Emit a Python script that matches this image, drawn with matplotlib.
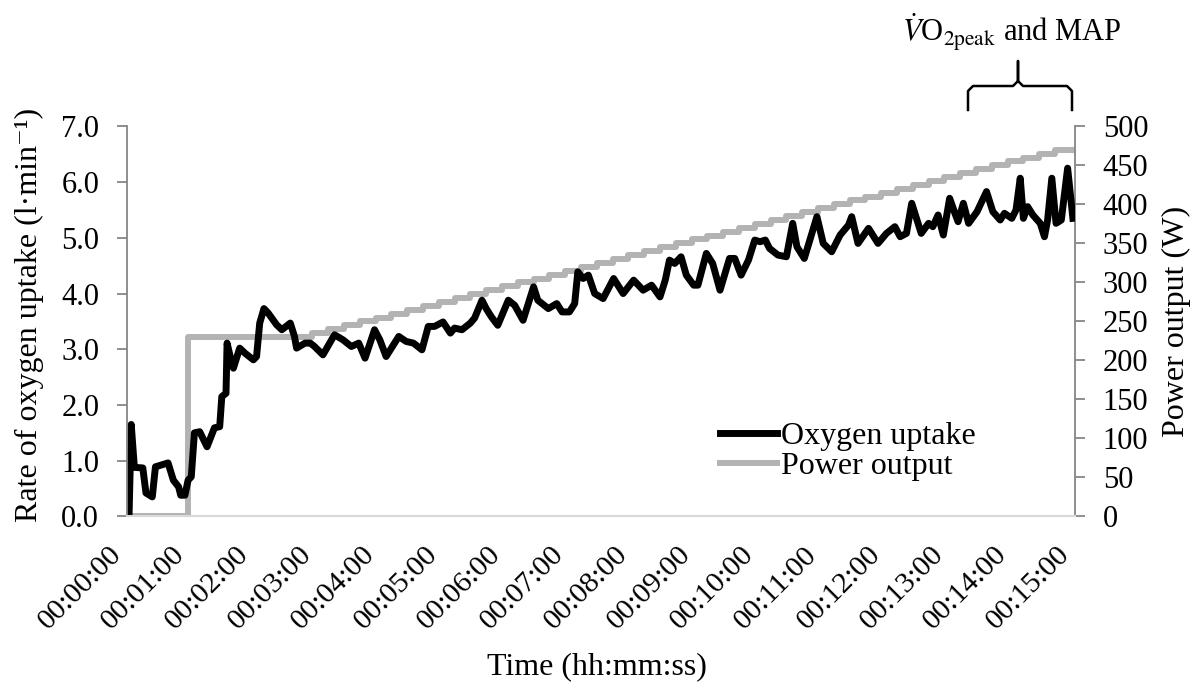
import matplotlib
matplotlib.use('Agg')
import matplotlib.pyplot as plt
import matplotlib.transforms as mtransforms
from matplotlib.lines import Line2D
from matplotlib.ticker import FormatStrFormatter

plt.rcParams.update({
    'font.family': ['Liberation Serif', 'DejaVu Serif'],
    'mathtext.fontset': 'stix',
    'font.size': 23,
})

# Oxygen uptake trace (time in s, l/min)
vo2_time = [2, 4, 7, 15, 18, 24, 27, 39, 44, 49, 51, 55, 58, 61, 64, 69, 76, 83, 88, 90,
            94, 95, 98, 101, 107, 112, 120, 123, 126, 130, 134, 142, 147, 155, 159, 161, 169, 174, 178, 186,
            197, 205, 213, 220, 226, 235, 240, 246, 258, 265, 272, 280, 286, 292, 300, 307, 311, 318, 326, 330,
            337, 341, 346, 352, 362, 368, 376, 386, 390, 400, 408, 413, 420, 425, 428, 433, 438, 444, 452, 462,
            471, 481, 490, 498, 506, 511, 515, 520, 526, 531, 538, 542, 550, 556, 563, 572, 577, 583, 590, 596,
            601, 606, 610, 618, 626, 632, 636, 643, 655, 661, 669, 677, 685, 688, 694, 704, 713, 721, 729, 734,
            740, 745, 750, 754, 761, 765, 770, 775, 781, 786, 789, 794, 799, 807, 816, 822, 829, 833, 840, 844,
            848, 851, 855, 860, 867, 871, 874, 878, 882, 887, 893, 898]
vo2 = [0.05, 1.65, 0.88, 0.87, 0.42, 0.35, 0.89, 0.96, 0.65, 0.53, 0.38, 0.38, 0.65, 0.71, 1.50, 1.52, 1.25, 1.59, 1.61, 2.15,
       2.21, 3.11, 2.87, 2.66, 3.02, 2.93, 2.81, 2.87, 3.47, 3.73, 3.65, 3.44, 3.35, 3.47, 3.23, 3.02, 3.11, 3.11, 3.05, 2.90,
       3.26, 3.17, 3.05, 3.11, 2.84, 3.35, 3.17, 2.87, 3.23, 3.14, 3.11, 2.99, 3.41, 3.41, 3.49, 3.29, 3.38, 3.35, 3.47, 3.56,
       3.88, 3.73, 3.58, 3.43, 3.88, 3.79, 3.52, 4.12, 3.88, 3.73, 3.82, 3.67, 3.67, 3.82, 4.39, 4.27, 4.33, 4.00, 3.91, 4.27,
       4.00, 4.24, 4.06, 4.15, 3.94, 4.24, 4.60, 4.54, 4.66, 4.33, 4.15, 4.15, 4.72, 4.54, 4.06, 4.63, 4.63, 4.33, 4.60, 4.96,
       4.93, 4.96, 4.81, 4.69, 4.66, 5.26, 4.84, 4.63, 5.38, 4.90, 4.75, 5.05, 5.23, 5.38, 4.90, 5.17, 4.90, 5.08, 5.20, 5.02,
       5.08, 5.62, 5.32, 5.08, 5.26, 5.20, 5.41, 5.05, 5.71, 5.44, 5.29, 5.62, 5.26, 5.47, 5.83, 5.47, 5.32, 5.44, 5.35, 5.50,
       6.07, 5.35, 5.56, 5.41, 5.26, 5.02, 5.32, 6.07, 5.26, 5.32, 6.25, 5.35]

# Power output steps (s, W)
power_time = [0, 58, 176, 191, 206, 221, 236, 251, 266, 281, 296, 311, 326, 341, 356, 371, 386, 401, 416, 431,
              446, 461, 476, 491, 506, 521, 536, 551, 566, 581, 596, 611, 626, 641, 656, 671, 686, 701, 716, 731,
              746, 761, 776, 791, 806, 821, 836, 851, 866, 881, 900]
power = [0, 230, 235, 240, 245, 250, 255, 260, 265, 270, 275, 280, 285, 290, 295, 300, 305, 310, 315, 320,
         325, 330, 335, 340, 345, 350, 355, 360, 365, 370, 375, 380, 385, 390, 395, 400, 405, 410, 415, 420,
         425, 430, 435, 440, 445, 450, 455, 460, 465, 470, 470]

tick_seconds = [0, 60, 120, 180, 240, 300, 360, 420, 480, 540, 600, 660, 720, 780, 840, 900]
tick_labels = ['00:00:00', '00:01:00', '00:02:00', '00:03:00', '00:04:00', '00:05:00', '00:06:00', '00:07:00',
               '00:08:00', '00:09:00', '00:10:00', '00:11:00', '00:12:00', '00:13:00', '00:14:00', '00:15:00']
vo2_ticks = [0, 1, 2, 3, 4, 5, 6, 7]
power_ticks = [0, 50, 100, 150, 200, 250, 300, 350, 400, 450, 500]

W, H = 1194, 684
fig = plt.figure(figsize=(W / 100, H / 100), dpi=100)
ax = fig.add_axes([127 / W, 1 - 516.4 / H, 948 / W, 390 / H])
ax2 = ax.twinx()

ax2.step(power_time, power, where='post', color='#b3b3b3', lw=4.3)
ax.plot(vo2_time, vo2, color='black', lw=5, solid_joinstyle='round')
ax.set_zorder(ax2.get_zorder() + 1)
ax.patch.set_visible(False)

ax.set_xlim(0, 900)
ax.set_ylim(0, 7)
ax2.set_ylim(0, 500)

ax.set_xticks(tick_seconds)
ax.set_xticklabels(tick_labels, rotation=45, ha='right', va='top', fontsize=21.5)
shift = mtransforms.ScaledTranslation(8 / 100, 0, fig.dpi_scale_trans)
for lbl in ax.get_xticklabels():
    lbl.set_transform(lbl.get_transform() + shift)
ax.tick_params(axis='x', length=0, pad=18)
ax.set_yticks(vo2_ticks)
ax.yaxis.set_major_formatter(FormatStrFormatter('%.1f'))
ax.tick_params(axis='y', direction='out', length=7, width=1.3, color='#868686', pad=13, labelsize=22)
ax2.set_yticks(power_ticks)
ax2.tick_params(axis='y', direction='out', length=7, width=1.3, color='#868686', pad=13, labelsize=22)

for a in (ax, ax2):
    a.spines['top'].set_visible(False)
    a.spines['bottom'].set_color('#d9d9d9')
    a.spines['bottom'].set_linewidth(1.5)
ax.spines['right'].set_visible(False)
ax.spines['left'].set_color('#868686')
ax.spines['left'].set_linewidth(1.3)
ax2.spines['left'].set_visible(False)
ax2.spines['right'].set_color('#868686')
ax2.spines['right'].set_linewidth(1.3)

ax.set_ylabel('Rate of oxygen uptake (l·min⁻¹)')
ax.yaxis.set_label_coords((44 - 127) / 948, 0.516)
ax2.set_ylabel('Power output (W)')
ax2.yaxis.set_label_coords((1162 - 127) / 948, 0.50)
ax.set_xlabel('Time (hh:mm:ss)')
ax.xaxis.set_label_coords(0.496, (516.4 - 652) / 390)

handles = [Line2D([], [], color='black', lw=5), Line2D([], [], color='#b3b3b3', lw=4.3)]
ax.legend(handles, ['Oxygen uptake', 'Power output'], loc='upper left',
          bbox_to_anchor=(720 / W, 1 - 422 / H), bbox_transform=fig.transFigure,
          frameon=False, handlelength=1.8, handletextpad=0.1, borderpad=0,
          borderaxespad=0, labelspacing=0)

# brace marking the peak region
def px(x, y):
    return x / W, 1 - y / H

bx = [968, 968, 973, 1013, 1018, 1018, 1018, 1023, 1067, 1072, 1072]
by = [110, 91, 86, 86, 81, 61, 81, 86, 86, 91, 110]
pts = [px(x, y) for x, y in zip(bx, by)]
fig.add_artist(Line2D([p[0] for p in pts], [p[1] for p in pts], color='black', lw=1.8,
                      transform=fig.transFigure))
fig.text(1012 / W, 1 - 32 / H, r'$\dot{V}$O$_{\mathrm{2peak}}$ and MAP', ha='center', va='center',
         fontsize=22)

fig.savefig('out.png', dpi=100)
